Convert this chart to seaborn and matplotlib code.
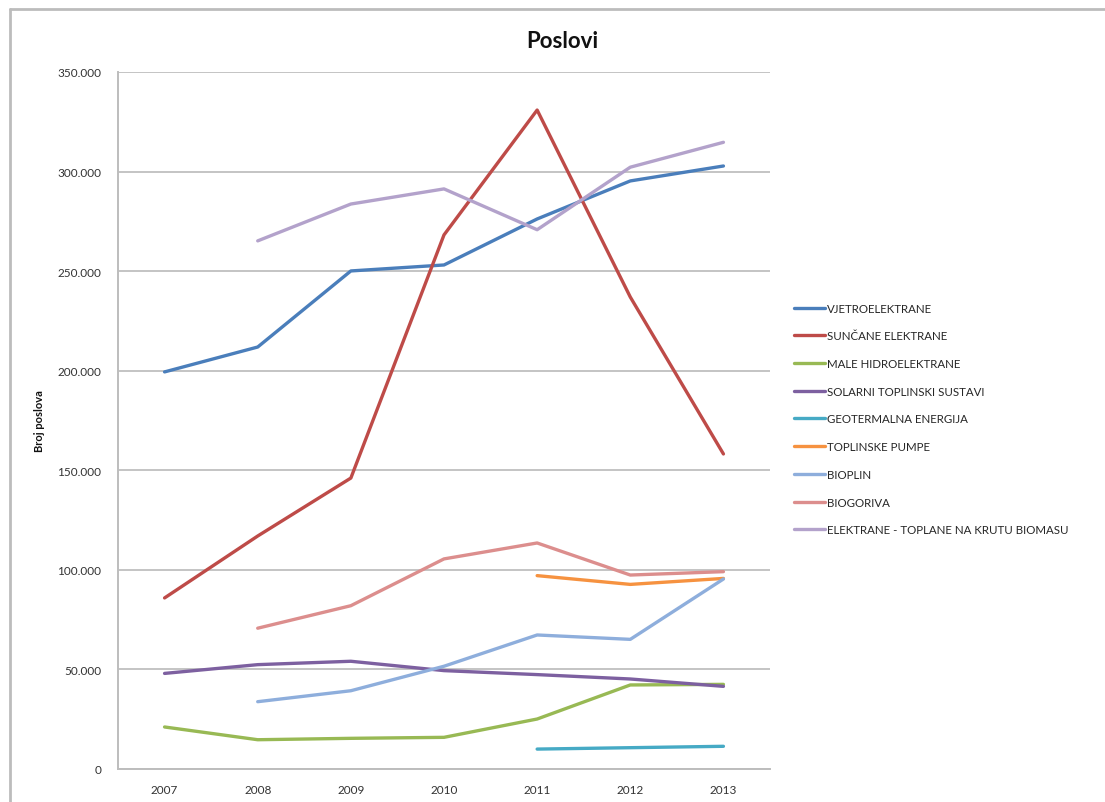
import matplotlib
matplotlib.use("Agg")
import matplotlib.pyplot as plt
from matplotlib.lines import Line2D
from matplotlib.ticker import FuncFormatter, MultipleLocator
import seaborn as sns
import pandas as pd

# Job counts per renewable-energy sector, 2007-2013
years = ["2007", "2008", "2009", "2010", "2011", "2012", "2013"]

vjetroelektrane = [199400, 211900, 250100, 253100, 276200, 295300, 302800]
suncane_elektrane = [85900, 117000, 146100, 268200, 330900, 237000, 158200]
male_hidroelektrane = [21100, 14700, 15400, 15900, 25100, 42200, 42500]
solarni_toplinski = [48000, 52400, 54100, 49400, 47400, 45200, 41500]
geotermalna = [None, None, None, None, 10000, 10700, 11400]
toplinske_pumpe = [None, None, None, None, 97100, 92700, 95700]
bioplin = [None, 33800, 39300, 51600, 67300, 65100, 95400]
biogoriva = [None, 70700, 82000, 105500, 113500, 97400, 99100]
biomasa = [None, 265200, 283700, 291300, 270800, 302200, 314700]

series_names = [
    "VJETROELEKTRANE",
    "SUNČANE ELEKTRANE",
    "MALE HIDROELEKTRANE",
    "SOLARNI TOPLINSKI SUSTAVI",
    "GEOTERMALNA ENERGIJA",
    "TOPLINSKE PUMPE",
    "BIOPLIN",
    "BIOGORIVA",
    "ELEKTRANE - TOPLANE NA KRUTU BIOMASU",
]
series_values = [
    vjetroelektrane, suncane_elektrane, male_hidroelektrane, solarni_toplinski,
    geotermalna, toplinske_pumpe, bioplin, biogoriva, biomasa,
]
colors = ["#4a7ebb", "#be4b48", "#98b954", "#7d60a0", "#46aac5",
          "#f69240", "#8eaedc", "#dc8e8d", "#b3a2cb"]

rows = []
for name, vals in zip(series_names, series_values):
    for i, (yr, v) in enumerate(zip(years, vals)):
        if v is not None:
            rows.append({"idx": i, "Godina": yr, "Serija": name, "Poslovi": v})
df = pd.DataFrame(rows)

sns.set_theme(style="white")
plt.rcParams["font.family"] = ["Lato", "DejaVu Sans"]

fig = plt.figure(figsize=(11.05, 8.03), dpi=100)
ax = fig.add_axes([118 / 1105, 1 - 770 / 803, (770 - 118) / 1105, (770 - 73) / 803])

sns.lineplot(data=df, x="idx", y="Poslovi", hue="Serija", hue_order=series_names,
             palette=colors, linewidth=2.4, ax=ax, legend=False, sort=False)

ax.set_xlim(-0.5, len(years) - 0.5)
ax.set_ylim(0, 350000)
ax.set_xticks(range(len(years)))
ax.set_xticklabels(years)
ax.yaxis.set_major_locator(MultipleLocator(50000))
ax.yaxis.set_major_formatter(FuncFormatter(lambda v, p: f"{int(v):,}".replace(",", ".")))
ax.tick_params(axis="y", labelsize=8.5, length=0, pad=12)
ax.tick_params(axis="x", labelsize=8.5, length=0, pad=11)
for lab in ax.get_xticklabels() + ax.get_yticklabels():
    lab.set_color("#333333")

ax.grid(axis="y", color="#c4c4c4", linewidth=1.4)
ax.set_axisbelow(True)
for side in ["top", "right"]:
    ax.spines[side].set_visible(False)
for side in ["left", "bottom"]:
    ax.spines[side].set_color("#bdbdbd")
    ax.spines[side].set_linewidth(1.4)

ax.set_xlabel("")
ax.set_ylabel("Broj poslova", fontsize=8, fontweight="bold", color="#111111", labelpad=0)
ax.yaxis.set_label_coords(-73 / 652, 0.5)

fig.text(562 / 1105, 1 - 41 / 803, "Poslovi", ha="center", va="center",
         fontsize=16, fontweight="bold", color="#111111")

handles = [Line2D([0], [0], color=c, linewidth=2.4) for c in colors]
fig.legend(handles, series_names, loc="upper left",
           bbox_to_anchor=(789 / 1105, 1 - 299 / 803), frameon=False,
           fontsize=8.3, handlelength=2.7, handletextpad=0.2,
           labelspacing=1.45, borderaxespad=0)

# outer chart frame
fig.add_artist(Line2D([10 / 1105, 1.0], [1 - 10 / 803, 1 - 10 / 803],
                      transform=fig.transFigure, color="#bcbcbc", linewidth=2))
fig.add_artist(Line2D([10 / 1105, 10 / 1105], [0.0, 1 - 10 / 803],
                      transform=fig.transFigure, color="#bcbcbc", linewidth=2))

fig.savefig("out.png", dpi=100, facecolor="white")
